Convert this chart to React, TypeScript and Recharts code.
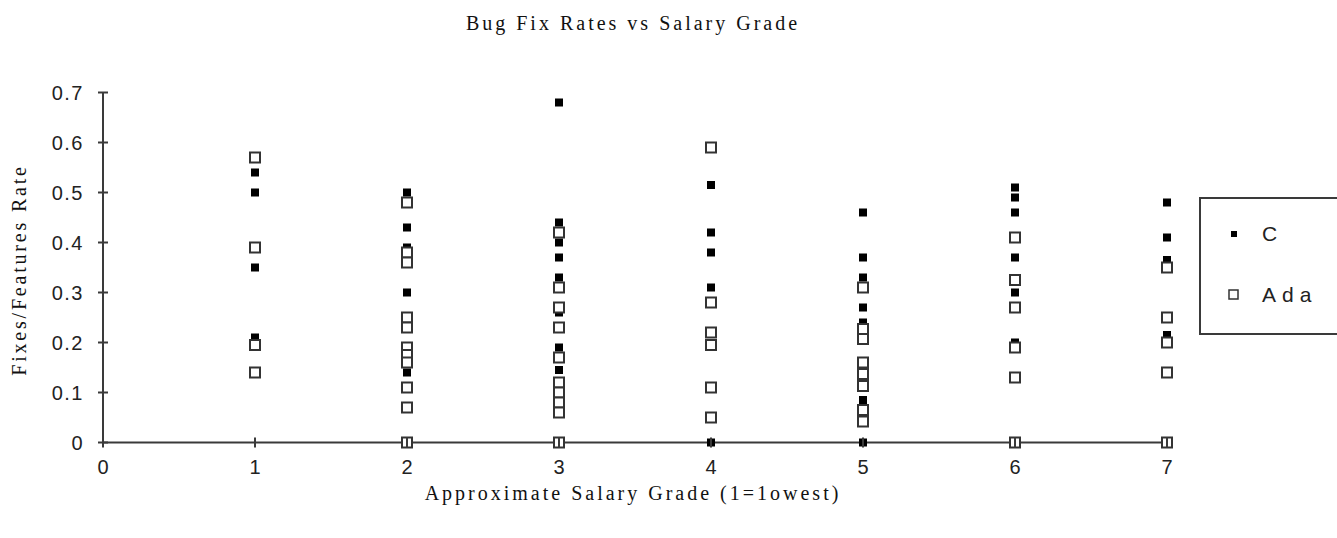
import React from 'react';
import { ScatterChart, Scatter, XAxis, YAxis, Legend } from 'recharts';

// values, one inner list per salary grade
const grades = [1, 2, 3, 4, 5, 6, 7];
const seriesNames = ['C', 'Ada'];

const cRates = [
  [0.54, 0.5, 0.35, 0.21],
  [0.5, 0.43, 0.39, 0.3, 0.14],
  [0.68, 0.44, 0.4, 0.37, 0.33, 0.26, 0.19, 0.145],
  [0.515, 0.42, 0.38, 0.31, 0],
  [0.46, 0.37, 0.33, 0.27, 0.24, 0.085, 0],
  [0.51, 0.49, 0.46, 0.37, 0.3, 0.2],
  [0.48, 0.41, 0.365, 0.215],
];

const adaRates = [
  [0.57, 0.39, 0.195, 0.14],
  [0.48, 0.38, 0.36, 0.25, 0.23, 0.19, 0.175, 0.16, 0.11, 0.07, 0],
  [0.42, 0.31, 0.27, 0.23, 0.17, 0.12, 0.1, 0.08, 0.06, 0],
  [0.59, 0.28, 0.22, 0.195, 0.11, 0.05],
  [0.31, 0.227, 0.207, 0.16, 0.137, 0.113, 0.065, 0.042],
  [0.41, 0.325, 0.27, 0.19, 0.13, 0],
  [0.35, 0.25, 0.2, 0.14, 0],
];

const xTicks = [0, 1, 2, 3, 4, 5, 6, 7];
const yTicks = [0, 0.1, 0.2, 0.3, 0.4, 0.5, 0.6, 0.7];

const toPoints = (rates: number[][]) =>
  grades.flatMap((g, i) => rates[i].map((r) => ({ grade: g, rate: r })));

const cData = toPoints(cRates);
const adaData = toPoints(adaRates);

const AXIS = '#3a3a3a';
const tickFont = '"Liberation Sans Narrow", "Liberation Sans", Arial, sans-serif';
const labelFont = '"Liberation Serif", "Times New Roman", serif';

const FilledSquare = (props: any) => {
  const { cx, cy } = props;
  if (cx == null || cy == null) return null;
  return <rect x={cx - 4} y={cy - 4} width={8} height={8} fill="#000" />;
};

const OpenSquare = (props: any) => {
  const { cx, cy } = props;
  if (cx == null || cy == null) return null;
  return <rect x={cx - 5} y={cy - 5} width={10} height={10} fill="#fff" stroke="#333" strokeWidth={2} />;
};

const XTick = (props: any) => {
  const { x, y, payload } = props;
  return (
    <g>
      <line x1={x} x2={x} y1={y - 5} y2={y + 5} stroke={AXIS} strokeWidth={2} />
      <text x={x} y={y + 31} textAnchor="middle" fontSize={20} fontFamily={tickFont} fill="#222">
        {payload.value}
      </text>
    </g>
  );
};

const YTick = (props: any) => {
  const { x, y, payload } = props;
  return (
    <g>
      <line x1={x - 5} x2={x + 5} y1={y} y2={y} stroke={AXIS} strokeWidth={2} />
      <text x={x - 19} y={y} dy="0.35em" textAnchor="end" fontSize={20} fontFamily={tickFont} fill="#222" letterSpacing={1.5}>
        {payload.value === 0 ? '0' : payload.value.toFixed(1)}
      </text>
    </g>
  );
};

const LegendBox = ({ payload }: any) => {
  const items = [...(payload || [])].sort(
    (a: any, b: any) => seriesNames.indexOf(a.value) - seriesNames.indexOf(b.value)
  );
  return (
    <div
      style={{
        width: 140,
        height: 138,
        boxSizing: 'border-box',
        border: `2px solid ${AXIS}`,
        background: '#fff',
        position: 'relative',
      }}
    >
      {items.map((entry: any, i: number) => {
        const filled = entry.value === 'C';
        return (
          <div key={entry.value} style={{ position: 'absolute', left: 0, top: i === 0 ? 35 : 96, height: 0 }}>
            <svg width={60} height={20} style={{ position: 'absolute', left: 0, top: -10 }}>
              {filled ? (
                <rect x={30} y={7} width={6} height={6} fill="#000" />
              ) : (
                <rect x={28} y={5} width={9} height={9} fill="#fff" stroke="#333" strokeWidth={1.5} />
              )}
            </svg>
            <span
              style={{
                position: 'absolute',
                left: 61,
                top: -13,
                fontFamily: '"Liberation Sans", Arial, sans-serif',
                fontSize: 21,
                letterSpacing: 6,
                color: '#222',
                lineHeight: '26px',
                whiteSpace: 'nowrap',
              }}
            >
              {entry.value}
            </span>
          </div>
        );
      })}
    </div>
  );
};

export default function App() {
  return (
    <div style={{ position: 'absolute', left: 0, top: 0, width: 1337, height: 538, overflow: 'hidden', background: '#fff' }}>
      <div
        style={{
          position: 'absolute',
          left: 0,
          width: 1266,
          top: 12,
          textAlign: 'center',
          fontFamily: labelFont,
          fontSize: 20,
          letterSpacing: 3,
          color: '#111',
        }}
      >
        Bug Fix Rates vs Salary Grade
      </div>
      <div
        style={{
          position: 'absolute',
          left: 0,
          width: 1266,
          top: 482,
          textAlign: 'center',
          fontFamily: labelFont,
          fontSize: 20,
          letterSpacing: 3,
          color: '#111',
        }}
      >
        Approximate Salary Grade (1=1owest)
      </div>
      <div
        style={{
          position: 'absolute',
          left: 19,
          top: 270,
          transform: 'translate(-50%, -50%) rotate(-90deg)',
          whiteSpace: 'nowrap',
          fontFamily: labelFont,
          fontSize: 20,
          letterSpacing: 2.8,
          color: '#111',
        }}
      >
        Fixes/Features Rate
      </div>
      <div style={{ position: 'absolute', left: 0, top: 0 }}>
        <ScatterChart width={1337} height={538} margin={{ top: 92.5, right: 170, bottom: 0, left: 0 }}>
          <XAxis
            type="number"
            dataKey="grade"
            domain={[0, 7]}
            ticks={xTicks}
            interval={0}
            height={95.5}
            tickSize={0}
            tickMargin={0}
            tickLine={false}
            axisLine={{ stroke: AXIS, strokeWidth: 2 }}
            tick={<XTick />}
          />
          <YAxis
            type="number"
            dataKey="rate"
            domain={[0, 0.7]}
            ticks={yTicks}
            interval={0}
            width={103}
            tickSize={0}
            tickMargin={0}
            tickLine={false}
            axisLine={{ stroke: AXIS, strokeWidth: 2 }}
            tick={<YTick />}
          />
          <Legend
            layout="horizontal"
            verticalAlign="middle"
            align="center"
            wrapperStyle={{ left: 1199, top: 197, width: 140, height: 138 }}
            content={<LegendBox />}
          />
          <Scatter name="C" data={cData} fill="#000" shape={<FilledSquare />} isAnimationActive={false} />
          <Scatter name="Ada" data={adaData} fill="#fff" stroke="#333" shape={<OpenSquare />} isAnimationActive={false} />
        </ScatterChart>
      </div>
    </div>
  );
}
